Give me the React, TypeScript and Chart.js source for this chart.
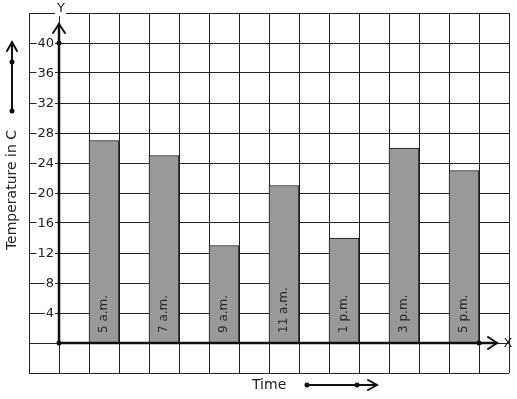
import React, { useEffect, useRef } from "react";
import { Chart, registerables } from "chart.js";

Chart.register(...registerables);

const slots: string[] = ["", "", "5 a.m.", "", "7 a.m.", "", "9 a.m.", "", "11 a.m.", "", "1 p.m.", "", "3 p.m.", "", "5 p.m.", ""];
const times: string[] = ["5 a.m.", "7 a.m.", "9 a.m.", "11 a.m.", "1 p.m.", "3 p.m.", "5 p.m."];
const temperatures: number[] = [27, 25, 13, 21, 14, 26, 23];
const yTicks: number[] = [4, 8, 12, 16, 20, 24, 28, 32, 36, 40];

const FONT = "'DejaVu Sans', sans-serif";

export default function App() {
  const ref = useRef<HTMLCanvasElement>(null);

  useEffect(() => {
    const canvas = ref.current;
    if (!canvas) return;
    const data: (number | null)[] = slots.map((s) => {
      const i = times.indexOf(s);
      return i >= 0 ? temperatures[i] : null;
    });

    const overlay = {
      id: "overlay",
      afterDatasetsDraw(chart: any) {
        const ctx = chart.ctx as CanvasRenderingContext2D;
        const xs = chart.scales.x;
        const ys = chart.scales.y;
        const x0 = xs.getPixelForValue(1) - 15;
        const y0 = ys.getPixelForValue(0);
        const ink = "#111";
        ctx.save();

        // bar labels
        const meta = chart.getDatasetMeta(0);
        ctx.font = `12px ${FONT}`;
        ctx.fillStyle = "#2a2a2a";
        ctx.textAlign = "left";
        ctx.textBaseline = "middle";
        meta.data.forEach((el: any, i: number) => {
          if (data[i] == null) return;
          ctx.save();
          ctx.translate(el.x, y0 - 10);
          ctx.rotate(-Math.PI / 2);
          ctx.fillText(slots[i], 0, 0);
          ctx.restore();
        });

        // tick labels
        ctx.font = `13px ${FONT}`;
        ctx.textAlign = "right";
        ctx.textBaseline = "middle";
        yTicks.forEach((t) => {
          const y = ys.getPixelForValue(t);
          const w = ctx.measureText(String(t)).width;
          ctx.fillStyle = "#fff";
          ctx.fillRect(54 - w - 1, y - 6, w + 2, 12);
          ctx.fillStyle = "#222";
          ctx.fillText(String(t), 54, y + 0.5);
        });

        // axes
        ctx.strokeStyle = ink;
        ctx.lineWidth = 2.5;
        ctx.lineCap = "round";
        const yTop = ys.getPixelForValue(44) + 11;
        const xRight = xs.getPixelForValue(15) + 15;
        const xEnd = xRight - 12;
        ctx.beginPath();
        ctx.moveTo(x0, y0);
        ctx.lineTo(x0, yTop);
        ctx.moveTo(x0, y0);
        ctx.lineTo(xEnd, y0);
        ctx.stroke();
        ctx.lineWidth = 2;
        ctx.beginPath();
        ctx.moveTo(x0 - 6, yTop + 9);
        ctx.lineTo(x0, yTop);
        ctx.lineTo(x0 + 6, yTop + 9);
        ctx.moveTo(xEnd - 9, y0 - 6);
        ctx.lineTo(xEnd, y0);
        ctx.lineTo(xEnd - 9, y0 + 6);
        ctx.stroke();

        const dot = (x: number, y: number) => {
          ctx.beginPath();
          ctx.arc(x, y, 2.5, 0, Math.PI * 2);
          ctx.fillStyle = ink;
          ctx.fill();
        };
        dot(x0, y0);
        dot(x0, ys.getPixelForValue(40));
        dot(xs.getPixelForValue(14) + 15, y0);

        // axis letters
        ctx.font = `13px ${FONT}`;
        ctx.textAlign = "center";
        ctx.textBaseline = "middle";
        ctx.fillStyle = "#fff";
        ctx.fillRect(x0 - 4, 2, 11, 14);
        ctx.fillStyle = "#222";
        ctx.fillText("Y", x0 + 2, 9);
        ctx.fillText("X", xRight - 1, y0 + 0.5);

        // axis titles
        ctx.font = `14px ${FONT}`;
        ctx.fillStyle = "#222";
        ctx.textAlign = "left";
        ctx.fillText("Time", 252, 385);
        ctx.save();
        ctx.translate(12, 190);
        ctx.rotate(-Math.PI / 2);
        ctx.textAlign = "center";
        ctx.fillText("Temperature in C", 0, 0);
        ctx.restore();

        // direction arrows
        ctx.strokeStyle = ink;
        ctx.lineWidth = 2;
        ctx.beginPath();
        ctx.moveTo(307, 385);
        ctx.lineTo(376, 385);
        ctx.moveTo(368, 380);
        ctx.lineTo(377, 385);
        ctx.lineTo(368, 390);
        ctx.moveTo(12, 111);
        ctx.lineTo(12, 42);
        ctx.moveTo(7, 51);
        ctx.lineTo(12, 42);
        ctx.lineTo(17, 51);
        ctx.stroke();
        dot(307, 385);
        dot(357, 385);
        dot(12, 111);
        dot(12, 62);

        ctx.restore();
      },
    };

    const chart = new Chart(canvas, {
      type: "bar",
      data: {
        labels: slots,
        datasets: [
          {
            data,
            backgroundColor: "#999999",
            borderColor: "#111",
            borderWidth: 1,
            barPercentage: 1,
            categoryPercentage: 1,
          },
        ],
      },
      options: {
        responsive: false,
        animation: false,
        events: [],
        layout: { padding: { left: 29, right: 8, top: 13, bottom: 26 } },
        plugins: { legend: { display: false }, tooltip: { enabled: false } },
        scales: {
          x: {
            type: "category",
            offset: true,
            grid: { offset: true, color: "#222", lineWidth: 1, drawTicks: false },
            border: { display: false },
            ticks: { display: false },
          },
          y: {
            min: -4,
            max: 44,
            grid: { color: "#222", lineWidth: 1, drawTicks: false },
            border: { display: false },
            ticks: { display: false, stepSize: 4 },
          },
        },
      },
      plugins: [overlay],
    });
    return () => chart.destroy();
  }, []);

  return (
    <div style={{ position: "absolute", left: 0, top: 0, width: 517, height: 399, background: "#fff" }}>
      <canvas ref={ref} width={517} height={399} style={{ width: 517, height: 399, display: "block" }} />
    </div>
  );
}
